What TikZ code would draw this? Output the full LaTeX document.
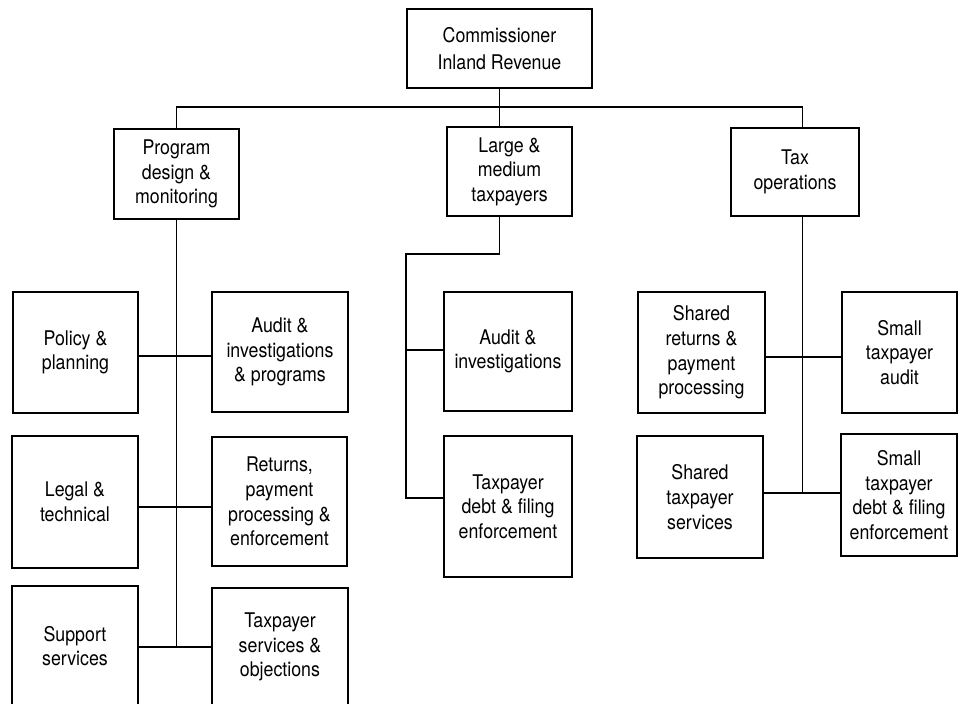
\documentclass[tikz,border=0pt]{standalone}
\usepackage{fontspec}
\setmainfont{TeX Gyre Heros}[FakeStretch=0.88]
\begin{document}
\begin{tikzpicture}[x=0.02cm, y=-0.02cm,
    unit/.style 2 args={draw, line width=0.8pt, align=center, inner sep=0pt,
      minimum width=#1cm, minimum height=#2cm,
      font=\fontsize{11.5}{14}\selectfont},
    link/.style={line width=0.8pt}]
  \path[use as bounding box] (0,0) rectangle (958,704);
  % top and second level
  \node[unit={3.70}{1.58}, font=\fontsize{11.5}{15.3}\selectfont] (cmr) at (499.5,48.5) {Commissioner\\Inland Revenue};
  \node[unit={2.50}{1.80}] (pdm) at (176.5,174) {Program\\design \&\\monitoring};
  \node[unit={2.50}{1.78}] (lmt) at (509.5,171.5) {Large \&\\medium\\taxpayers};
  \node[unit={2.56}{1.76}] (tax) at (795,172) {Tax\\operations};
  % left column
  \node[unit={2.50}{2.42}] (policy) at (75.5,352.5) {Policy \&\\planning};
  \node[unit={2.72}{2.40}] (auditL) at (280,352) {Audit \&\\investigations\\\& programs};
  \node[unit={2.52}{2.64}] (legal) at (75,502) {Legal \&\\technical};
  \node[unit={2.70}{2.58}] (returns) at (279.5,501.5) {Returns,\\payment\\processing \&\\enforcement};
  \node[unit={2.52}{2.40}] (support) at (75,646) {Support\\services};
  \node[unit={2.72}{2.36}] (tpserv) at (280,647) {Taxpayer\\services \&\\objections};
  % middle column
  \node[unit={2.56}{2.38}] (auditM) at (508,351.5) {Audit \&\\investigations};
  \node[unit={2.56}{2.82}] (debtM) at (508,506.5) {Taxpayer\\debt \& filing\\enforcement};
  % right column
  \node[unit={2.54}{2.42}] (sharedret) at (701.5,352.5) {Shared\\returns \&\\payment\\processing};
  \node[unit={2.30}{2.42}] (smaud) at (899.5,352.5) {Small\\taxpayer\\audit};
  \node[unit={2.52}{2.44}] (sharedsvc) at (700,497) {Shared\\taxpayer\\services};
  \node[unit={2.32}{2.44}] (smdebt) at (899,495) {Small\\taxpayer\\debt \& filing\\enforcement};
  % junctions
  \coordinate (busR) at (802.5,107);
  \coordinate (lj1) at (177,356);
  \coordinate (lj2) at (177,507);
  \coordinate (lend) at (177,647);
  \coordinate (mturn) at (406,254);
  \coordinate (mj1) at (406,350);
  \coordinate (mj2) at (406,498);
  \coordinate (rj1) at (802.5,357);
  \coordinate (rend) at (802.5,493);
  % connectors
  \draw[link] (cmr.south) -- (cmr.south |- lmt.north);
  \draw[link] (pdm.north) |- (busR) -- (busR |- tax.north);
  \draw[link] (pdm.south) -- (pdm.south |- lend);
  \draw[link] (cmr.south |- lmt.south) -- (cmr.south |- mturn) -- (mturn) -- (mj2) -- (debtM.west |- mj2);
  \draw[link] (mj1) -- (auditM.west |- mj1);
  \draw[link] (busR |- tax.south) -- (rend);
  \foreach \l/\r/\j in {policy/auditL/lj1, legal/returns/lj2, support/tpserv/lend,
      sharedret/smaud/rj1, sharedsvc/smdebt/rend}
    \draw[link] (\l.east |- \j) -- (\r.west |- \j);
\end{tikzpicture}
\end{document}
